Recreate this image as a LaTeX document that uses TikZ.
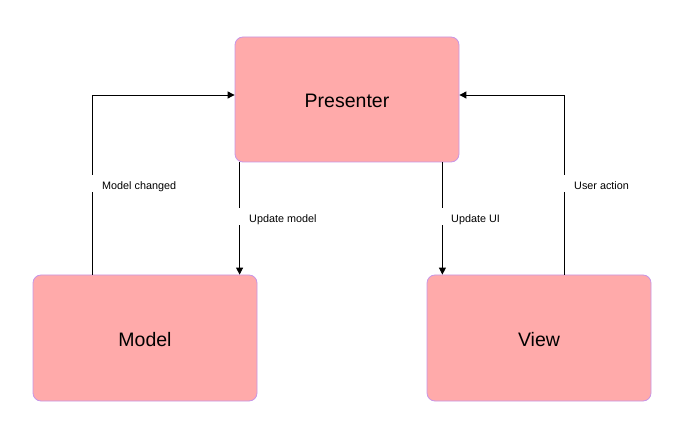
\documentclass[tikz,border=0pt]{standalone}
\usepackage{fontspec}
\setmainfont{Liberation Sans}
\usetikzlibrary{arrows.meta}
\definecolor{boxfill}{RGB}{255,170,170}
\definecolor{boxline}{RGB}{200,150,230}
\tikzset{
  block/.style={draw=boxline, line width=0.8pt, fill=boxfill, rounded corners=8pt,
    minimum width=224pt, minimum height=125pt, inner sep=0pt,
    text height=17pt, text depth=0pt, font=\fontsize{19.5}{22}\selectfont},
  link/.style={draw=black, line width=0.9pt, -{Triangle[length=7pt,width=7pt]}},
  tag/.style={fill=white, anchor=west, inner xsep=11pt, inner ysep=1pt,
    text height=13.5pt, text depth=1.5pt, font=\fontsize{10.8}{12}\selectfont}
}
\begin{document}
\begin{tikzpicture}[x=1pt, y=-1pt]
  \useasboundingbox (0,0) rectangle (679,435);

  % the three components
  \node[block] (presenter) at (347,99.5) {Presenter};
  \node[block, minimum height=126pt] (model) at (145,338) {Model};
  \node[block, minimum height=126pt] (view) at (539,338) {View};

  % model -> presenter
  \draw[link] ([xshift=60pt]model.north west) |- ([yshift=4.5pt]presenter.west);
  % presenter -> model
  \draw[link] ([xshift=5pt]presenter.south west) -- ([xshift=5pt]presenter.south west |- model.north);
  % presenter -> view
  \draw[link] ([xshift=-17pt]presenter.south east) -- ([xshift=-17pt]presenter.south east |- view.north);
  % view -> presenter
  \draw[link] ([xshift=138pt]view.north west) |- ([yshift=4.5pt]presenter.east);

  % connector labels
  \node[tag] (lchanged) at (91,183.5) {Model changed};
  \node[tag] (lupdmodel) at (238,217) {Update model};
  \node[tag] (lupdui) at (440,217) {Update UI};
  \node[tag] (luser) at (563,183.5) {User action};
\end{tikzpicture}
\end{document}
